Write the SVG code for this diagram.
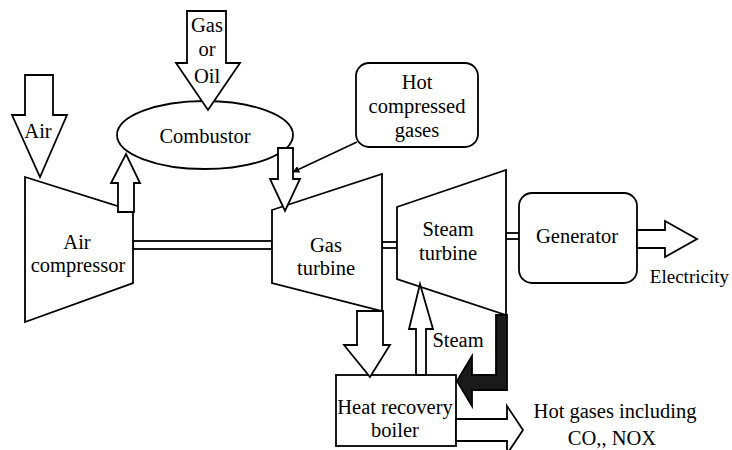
<svg xmlns="http://www.w3.org/2000/svg" width="732" height="450" viewBox="0 0 732 450" font-family="'Liberation Serif', 'Times New Roman', serif">
<defs>
<style>
.s{fill:#fff;stroke:#000;stroke-width:1.8;stroke-linejoin:miter}
text{font-family:'Liberation Serif','Times New Roman',serif;font-size:20.5px;fill:#000}
.t{text-anchor:middle}
.dark{fill:#1a1a1a;stroke:#000;stroke-width:1.8}
</style>
<marker id="ah" viewBox="0 0 10 10" refX="9" refY="5" markerWidth="7" markerHeight="7" orient="auto" markerUnits="userSpaceOnUse">
<path d="M0,0 L10,5 L0,10 z" fill="#000"/>
</marker>
</defs>
<rect width="732" height="450" fill="#fff"/>

<g id="connectors">
<rect class="s" x="133" y="241" width="139" height="8"/>
<rect class="s" x="382" y="242" width="15" height="6"/>
<rect class="s" x="506" y="233" width="13" height="6"/>
</g>

<g id="air-compressor">
<polygon class="s" points="25,177 133,211 133,283 25,322"/>
<text class="t" x="77" y="249">Air</text>
<text class="t" x="78" y="272">compressor</text>
</g>

<g id="combustor">
<ellipse class="s" cx="205" cy="135" rx="88" ry="34"/>
<text class="t" x="205" y="143">Combustor</text>
</g>

<g id="gas-turbine">
<polygon class="s" points="272,210 382,174 382,311 272,283"/>
<text class="t" x="326" y="252">Gas</text>
<text class="t" x="326" y="275">turbine</text>
</g>

<g id="steam-turbine">
<polygon class="s" points="397,207 506,170 506,315 397,279"/>
<text class="t" x="448" y="236">Steam</text>
<text class="t" x="448" y="260">turbine</text>
</g>

<g id="generator">
<rect class="s" x="519" y="193" width="118" height="90" rx="13"/>
<text class="t" x="577" y="243">Generator</text>
</g>

<g id="heat-recovery-boiler">
<rect class="s" x="336" y="375" width="120" height="71"/>
<text class="t" x="395" y="414">Heat recovery</text>
<text class="t" x="395" y="437">boiler</text>
</g>

<g id="hot-compressed-gases">
<rect class="s" x="356" y="63" width="122" height="84" rx="13"/>
<text class="t" x="417" y="89">Hot</text>
<text class="t" x="417" y="113">compressed</text>
<text class="t" x="417" y="137">gases</text>
</g>

<g id="flows">
<polygon class="s" points="25,75 53,75 53,115 67,115 40,177 12,115 25,115"/>
<text class="t" x="38" y="138">Air</text>
<polygon class="s" points="187,11 226,11 226,63 240,63 208,110 176,63 187,63"/>
<text class="t" x="207" y="32">Gas</text>
<text class="t" x="207" y="56">or</text>
<text class="t" x="207" y="83">Oil</text>
<polygon class="s" points="118,212 134,212 134,183 140,183 126,154 111,183 118,183"/>
<polygon class="s" points="278,148 293,148 293,179 300,179 285,211 270,179 278,179"/>
<line x1="357" y1="142" x2="293" y2="172" stroke="#000" stroke-width="1.6" marker-end="url(#ah)"/>
<polygon class="s" points="357,311 383,311 383,345 390,345 370,377 344,345 357,345"/>
<polygon class="s" points="416,375 426,375 426,329 433,329 420,284 409,329 416,329"/>
<text class="t" x="458" y="347">Steam</text>
<polygon class="dark" points="496,315 507,315 507,390 472,390 472,406 457,381 472,356 472,375 496,375"/>
<polygon class="s" points="456,419 507,419 507,406 523,430 507,454 507,441 456,441"/>
<text class="t" x="615" y="418">Hot gases including</text>
<text class="t" x="612" y="445">CO,, NOX</text>
<polygon class="s" points="637,230 665,230 665,221 697,239 665,257 665,248 637,248"/>
<text x="729" y="283" text-anchor="end" font-size="19" style="font-size:19px">Electricity</text>
</g>
</svg>
